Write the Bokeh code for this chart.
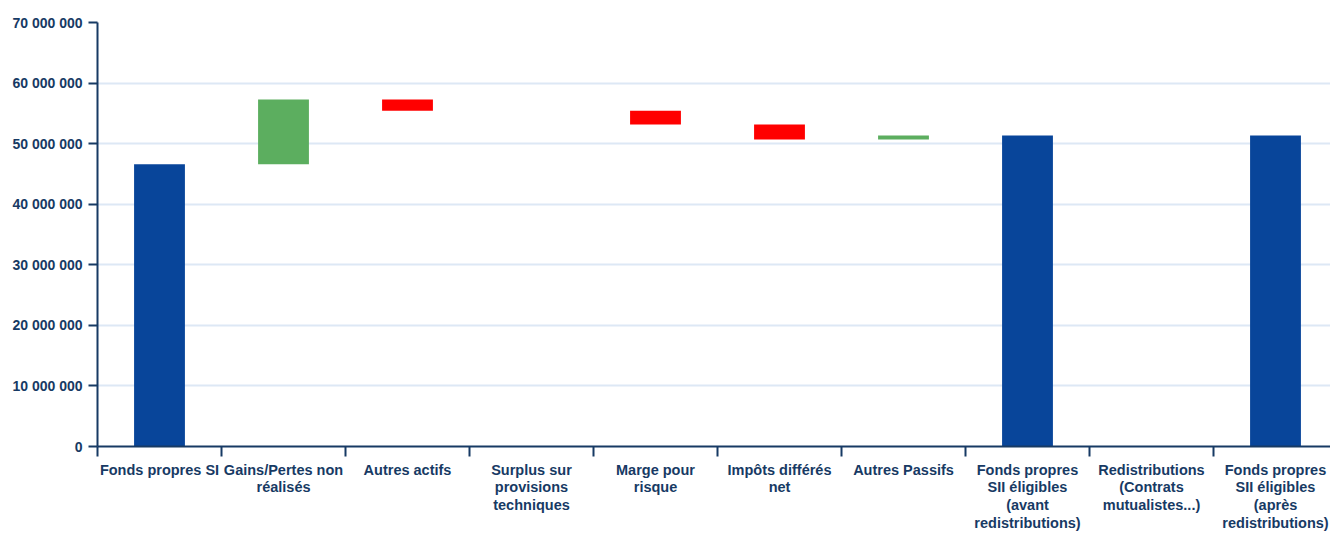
from bokeh.plotting import figure
from bokeh.models import Range1d, FixedTicker, CustomJSTickFormatter, ColumnDataSource
from bokeh.embed import file_html
from bokeh.resources import INLINE

categories = [
    "Fonds propres SI",
    "Gains/Pertes non\nréalisés",
    "Autres actifs",
    "Surplus sur\nprovisions\ntechniques",
    "Marge pour\nrisque",
    "Impôts différés\nnet",
    "Autres Passifs",
    "Fonds propres\nSII éligibles\n(avant\nredistributions)",
    "Redistributions\n(Contrats\nmutualistes...)",
    "Fonds propres\nSII éligibles\n(après\nredistributions)",
]
measures = ["absolute", "relative", "relative", "relative", "relative",
            "relative", "relative", "total", "relative", "total"]
values = [46600000, 10700000, -1850000, 0, -2300000, -2450000, 650000, 0, 0, 0]
y_ticks = [0, 10000000, 20000000, 30000000, 40000000, 50000000, 60000000, 70000000]

BLUE = "#08459a"
GREEN = "#5cae5f"
RED = "#ff0000"
TXT = "#173a64"

xs, tops, bottoms, colors = [], [], [], []
running = 0
for i, (m, v) in enumerate(zip(measures, values)):
    xs.append(i + 0.5)
    if m == "absolute":
        running = v
        bottoms.append(0); tops.append(v); colors.append(BLUE)
    elif m == "total":
        bottoms.append(0); tops.append(running); colors.append(BLUE)
    else:
        b = running
        running += v
        bottoms.append(min(b, running)); tops.append(max(b, running))
        colors.append(GREEN if v >= 0 else RED)

src = ColumnDataSource(dict(x=xs, top=tops, bottom=bottoms, color=colors))

W = 1330
frame_left = 97
band = 124.0
p = figure(width=W, height=534, output_backend="svg", toolbar_location=None,
           x_range=Range1d(0, (W - frame_left) / band), y_range=Range1d(0, 70000000),
           min_border_left=frame_left, min_border_right=0, min_border_top=22,
           min_border_bottom=88)
p.outline_line_color = None
p.background_fill_color = "white"
p.border_fill_color = "white"

p.vbar(x="x", top="top", bottom="bottom", width=0.41, color="color",
       line_color=None, source=src)

# grid
p.xgrid.grid_line_color = None
p.ygrid.grid_line_color = "#dde8f5"
p.ygrid.grid_line_width = 2

# y axis
ya = p.yaxis[0]
ya.ticker = FixedTicker(ticks=y_ticks)
ya.formatter = CustomJSTickFormatter(code="""
return Math.round(tick).toString().replace(/\\B(?=(\\d{3})+(?!\\d))/g, " ");
""")
ya.axis_line_color = TXT
ya.axis_line_width = 2
ya.major_tick_line_color = TXT
ya.major_tick_line_width = 2
ya.major_tick_out = 9
ya.major_tick_in = 0
ya.minor_tick_line_color = None
ya.major_label_standoff = 6
ya.major_label_text_font = "Liberation Sans"
ya.major_label_text_font_style = "bold"
ya.major_label_text_font_size = "14px"
ya.major_label_text_color = TXT

# x axis: labels at band centres, ticks at band boundaries
xa = p.xaxis[0]
xa.ticker = FixedTicker(ticks=xs, minor_ticks=list(range(len(categories) + 1)))
xa.formatter = CustomJSTickFormatter(args=dict(labels=categories), code="""
return labels[Math.floor(tick)];
""")
xa.axis_line_color = TXT
xa.axis_line_width = 2
xa.major_tick_line_color = None
xa.major_tick_out = 0
xa.major_tick_in = 0
xa.minor_tick_line_color = TXT
xa.minor_tick_line_width = 2
xa.minor_tick_out = 10
xa.minor_tick_in = 0
xa.major_label_standoff = 5
xa.major_label_text_font = "Liberation Sans"
xa.major_label_text_font_style = "bold"
xa.major_label_text_font_size = "14.5px"
xa.major_label_text_color = TXT
xa.major_label_text_line_height = 1.12

open("out.html", "w").write(file_html(p, INLINE))
